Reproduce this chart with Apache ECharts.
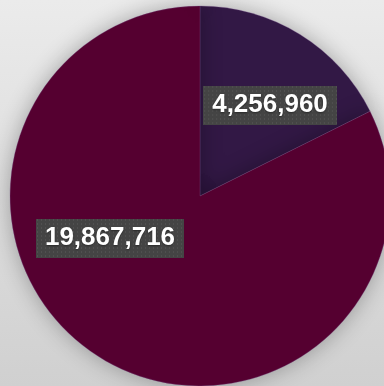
<!DOCTYPE html>
<html>
<head>
<meta charset="utf-8">
<style>
html,body{margin:0;padding:0;width:384px;height:386px;overflow:hidden;}
#chart{width:384px;height:386px;}
</style>
<script src="https://cdn.jsdelivr.net/npm/echarts@6/dist/echarts.min.js"></script>
</head>
<body>
<div id="chart"></div>
<script>
const categories = ['Slice A', 'Slice B'];
const values = [4256960, 19867716];
const sliceColors = ['#321845', '#550030'];
const labelCenters = [[270, 105], [110, 238]];

const FONT = 'bold 26px "Liberation Sans", Arial, sans-serif';
const PAD_X = 9, PAD_Y = 6, LINE_H = 27;

function makePattern(text) {
  const m = document.createElement('canvas').getContext('2d');
  m.font = FONT;
  const w = Math.round(m.measureText(text).width + PAD_X * 2);
  const h = LINE_H + PAD_Y * 2;
  const c = document.createElement('canvas');
  c.width = w; c.height = h;
  const ctx = c.getContext('2d');
  ctx.fillStyle = '#444444';
  ctx.fillRect(0, 0, w, h);
  ctx.fillStyle = '#5c5c5c';
  for (let y = 1; y < h; y += 4) {
    for (let x = 1; x < w; x += 4) ctx.fillRect(x, y, 1, 1);
  }
  return c;
}

const fmt = v => v.toLocaleString('en-US');

const chart = echarts.init(document.getElementById('chart'));
chart.setOption({
  animation: false,
  backgroundColor: {
    type: 'linear', x: 0, y: 0, x2: 0, y2: 1,
    colorStops: [{offset: 0, color: '#ebebeb'}, {offset: 1, color: '#d0d0d0'}]
  },
  series: [{
    type: 'pie',
    center: [200, 196],
    radius: [0, 190],
    startAngle: 90,
    clockwise: true,
    silent: true,
    data: categories.map((n, i) => ({
      name: n, value: values[i],
      itemStyle: {color: sliceColors[i]},
      label: {backgroundColor: {image: makePattern(fmt(values[i]))}}
    })),
    itemStyle: {
      borderColor: 'rgba(120,80,140,0.6)',
      borderWidth: 0.5,
      shadowBlur: 22,
      shadowColor: 'rgba(0,0,0,0.3)'
    },
    label: {
      show: true,
      position: 'inside',
      formatter: p => fmt(p.value),
      color: '#ffffff',
      fontFamily: '"Liberation Sans", Arial, sans-serif',
      fontWeight: 'bold',
      fontSize: 26,
      lineHeight: LINE_H,
      padding: [PAD_Y, PAD_X, PAD_Y, PAD_X],
      shadowColor: 'rgba(0,0,0,0.6)',
      shadowBlur: 5,
      shadowOffsetX: 2,
      shadowOffsetY: 3,
      textShadowColor: 'rgba(0,0,0,0.4)',
      textShadowBlur: 2,
      textShadowOffsetY: 1,
      align: 'center',
      verticalAlign: 'middle'
    },
    labelLine: {show: false},
    labelLayout: function (params) {
      const p = labelCenters[params.dataIndex];
      return {x: p[0], y: p[1], align: 'center', verticalAlign: 'middle'};
    }
  }]
});
</script>
</body>
</html>
